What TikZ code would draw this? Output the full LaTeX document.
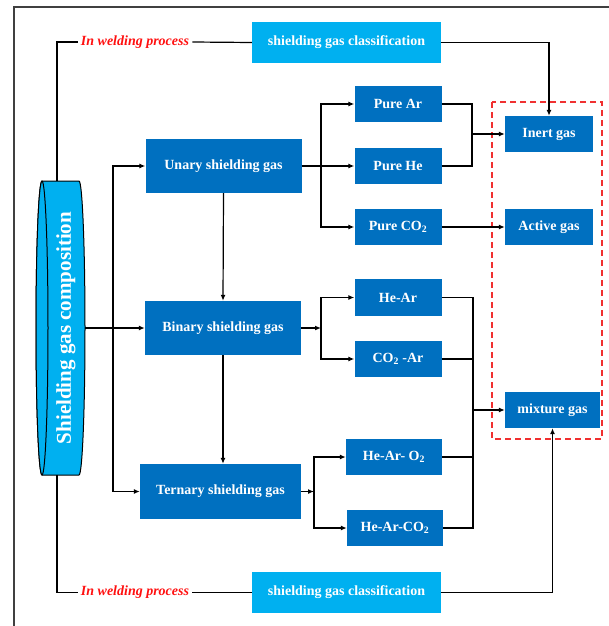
\documentclass[tikz,border=0pt]{standalone}
\usepackage{fontspec}
\setmainfont{Liberation Serif}
\usetikzlibrary{arrows.meta}
\definecolor{dblue}{HTML}{0070C0}
\definecolor{lblue}{HTML}{00B0F0}
\definecolor{wred}{HTML}{FF1010}
\definecolor{dashred}{HTML}{F03030}
\tikzset{
  box/.style={fill=dblue, text=white, inner sep=0pt, font=\fontsize{14}{16}\selectfont\bfseries},
  lbox/.style={fill=lblue, text=white, inner sep=0pt, font=\fontsize{14}{16}\selectfont\bfseries},
  wlabel/.style={text=wred, inner sep=3pt, font=\fontsize{14}{16}\selectfont\bfseries\itshape},
  conn/.style={line width=1.2pt, black},
  arr/.style={conn, -{Latex[length=6pt,width=5pt]}}
}
\begin{document}
\begin{tikzpicture}[x=1pt,y=-1pt]
\useasboundingbox (0,0) rectangle (609,626);
% frame
\draw[line width=1.6pt, black!75] (14,626) -- (14,7) -- (609,7);
% cylinder
\draw[line width=1pt, fill=lblue] (42,181) -- (79,181)
  arc[start angle=-90, end angle=90, x radius=6, y radius=147]
  -- (42,475) arc[start angle=90, end angle=270, x radius=6, y radius=147] -- cycle;
\draw[line width=1pt, fill=lblue] (42,328) ellipse[x radius=6, y radius=147];
\node[rotate=90, text=white, font=\fontsize{21}{24}\selectfont\bfseries] (cyl) at (66,328) {Shielding gas composition};
\coordinate (ctop) at (57,181);
\coordinate (cbot) at (57,475);
\coordinate (cright) at (85,328);
% boxes
\node[lbox, minimum width=189pt, minimum height=41pt] (cls1) at (346.5,42.5) {shielding gas classification};
\node[lbox, minimum width=189pt, minimum height=41pt] (cls2) at (346.5,592.5) {shielding gas classification};
\node[wlabel] (wp1) at (135,42) {In welding process};
\node[wlabel] (wp2) at (135,592.5) {In welding process};
\node[box, minimum width=156pt, minimum height=54pt] (unary) at (223.5,166) {Unary shielding gas};
\node[box, minimum width=156pt, minimum height=54pt] (binary) at (223,328) {Binary shielding gas};
\node[box, minimum width=161pt, minimum height=55pt] (ternary) at (220.5,491.5) {Ternary shielding gas};
\node[box, minimum width=87pt, minimum height=36pt] (purear) at (398,104) {Pure Ar};
\node[box, minimum width=87pt, minimum height=36pt] (purehe) at (398,166) {Pure He};
\node[box, minimum width=87pt, minimum height=36pt] (pureco2) at (398,227) {Pure CO\textsubscript{2}};
\node[box, minimum width=87pt, minimum height=37pt] (hear) at (398,297.5) {He-Ar};
\node[box, minimum width=87pt, minimum height=36pt] (co2ar) at (398,359) {CO\textsubscript{2} -Ar};
\node[box, minimum width=96pt, minimum height=36pt] (hearo2) at (394,457) {He-Ar- O\textsubscript{2}};
\node[box, minimum width=96pt, minimum height=36pt] (hearco2) at (395,528) {He-Ar-CO\textsubscript{2}};
\node[box, minimum width=88pt, minimum height=36pt] (inert) at (549,134) {Inert gas};
\node[box, minimum width=88pt, minimum height=36pt] (active) at (549,227) {Active gas};
\node[box, minimum width=95pt, minimum height=36pt] (mixture) at (552.5,410) {mixture gas};
% dashed group
\draw[dashred, line width=1.5pt, dash pattern=on 6pt off 4pt] (492,102) rectangle (602,439);
% junctions
\coordinate (j1) at (113,328);
\coordinate (j2) at (321,166);
\coordinate (j3) at (321,328);
\coordinate (j4) at (314,491.5);
\coordinate (m1) at (472,134);
\coordinate (m2) at (473,410);
% connectors
\draw[conn] (ctop) |- (wp1.west);
\draw[conn] (wp1.east) -- (cls1.west);
\draw[arr] (cls1.east) -| (inert.north);
\draw[conn] (cbot) |- (wp2.west);
\draw[conn] (wp2.east) -- (cls2.west);
\draw[arr] (cls2.east) -| (mixture.south);
\draw[arr] (cright) -- (binary.west);
\draw[arr] (j1) |- (unary.west);
\draw[arr] (j1) |- (ternary.west);
\draw[arr] (unary.south) -- (binary.north);
\draw[arr] (binary.south) -- (binary.south |- ternary.north);
\draw[arr] (unary.east) -- (purehe.west);
\draw[arr] (j2) |- (purear.west);
\draw[arr] (j2) |- (pureco2.west);
\draw[arr] (binary.east) -- (j3);
\draw[arr] (j3) |- (hear.west);
\draw[arr] (j3) |- (co2ar.west);
\draw[arr] (ternary.east) -- (j4);
\draw[arr] (j4) |- (hearo2.west);
\draw[arr] (j4) |- (hearco2.west);
\draw[conn] (purear.east) -| (m1);
\draw[conn] (purehe.east) -| (m1);
\draw[arr] (m1) -- (inert.west);
\draw[arr] (pureco2.east) -- (active.west);
\draw[conn] (hear.east) -| (m2);
\draw[conn] (co2ar.east) -| (m2);
\draw[conn] (hearo2.east) -| (m2);
\draw[conn] (hearco2.east) -| (m2);
\draw[arr] (m2) -- (mixture.west);
\end{tikzpicture}
\end{document}
